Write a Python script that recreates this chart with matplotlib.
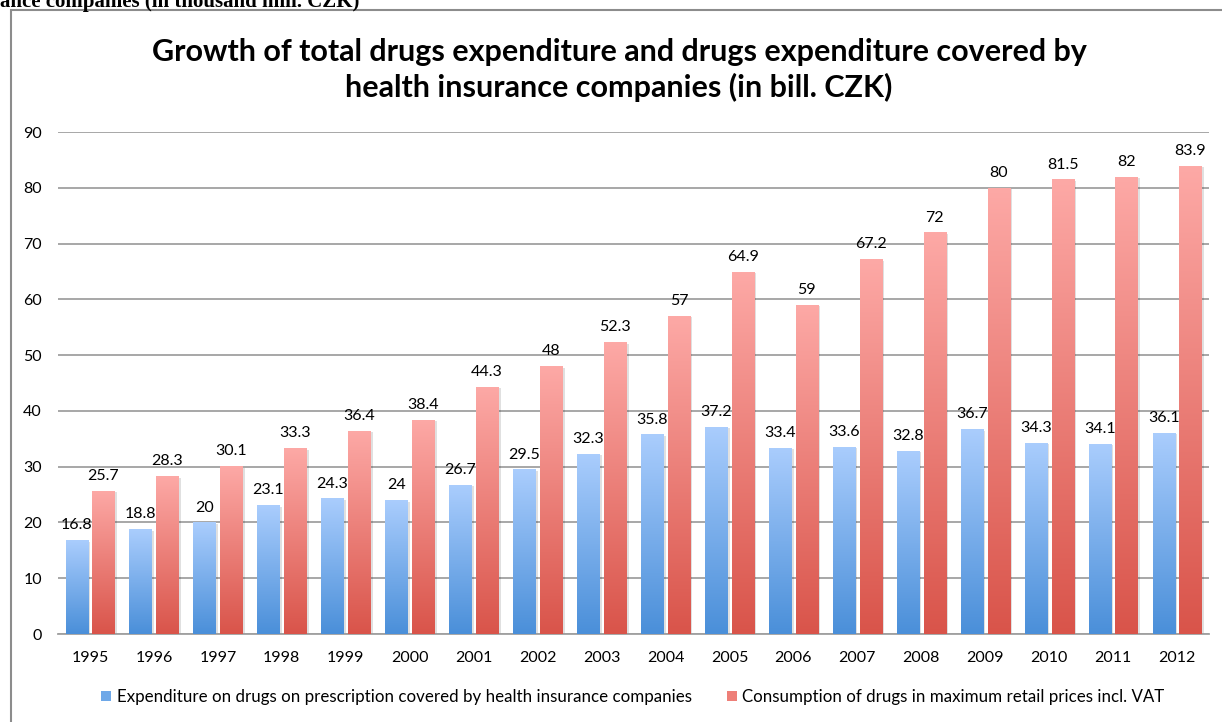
import matplotlib
matplotlib.use("Agg")
import matplotlib.pyplot as plt
import numpy as np
from matplotlib.colors import LinearSegmentedColormap
from matplotlib.patches import Rectangle, Patch

years = ["1995", "1996", "1997", "1998", "1999", "2000", "2001", "2002", "2003",
         "2004", "2005", "2006", "2007", "2008", "2009", "2010", "2011", "2012"]
covered = [16.8, 18.8, 20, 23.1, 24.3, 24, 26.7, 29.5, 32.3, 35.8, 37.2, 33.4,
           33.6, 32.8, 36.7, 34.3, 34.1, 36.1]
consumption = [25.7, 28.3, 30.1, 33.3, 36.4, 38.4, 44.3, 48, 52.3, 57, 64.9, 59,
               67.2, 72, 80, 81.5, 82, 83.9]
covered_labels = ["16.8", "18.8", "20", "23.1", "24.3", "24", "26.7", "29.5", "32.3",
                  "35.8", "37.2", "33.4", "33.6", "32.8", "36.7", "34.3", "34.1", "36.1"]
consumption_labels = ["25.7", "28.3", "30.1", "33.3", "36.4", "38.4", "44.3", "48", "52.3",
                      "57", "64.9", "59", "67.2", "72", "80", "81.5", "82", "83.9"]
series_names = ["Expenditure on drugs on prescription covered by health insurance companies",
                "Consumption of drugs in maximum retail prices incl. VAT"]
title = ("Growth of total drugs expenditure and drugs expenditure covered by\n"
         "health insurance companies (in bill. CZK)")

plt.rcParams['font.family'] = ['Lato', 'DejaVu Sans']

fig = plt.figure(figsize=(12.22, 7.22), dpi=100)
W, H = 1222, 722

# cut-off heading text of surrounding document
fig.text(0, 1 - 6.5 / H, "ance companies (in thousand mill. CZK)", fontsize=15,
         fontweight='bold', family='Liberation Serif', va='baseline', ha='left')

# chart frame
frame = Rectangle((11 / W, -0.1), 1.2, 1 - 10 / H + 0.1, transform=fig.transFigure,
                  fill=False, edgecolor='#8c8c8c', linewidth=1.5)
fig.patches.append(frame)

ax = fig.add_axes([58 / W, 1 - 634 / H, (1209 - 58) / W, (634 - 132) / H])
x = np.arange(len(years))
bw = 0.345
off = 0.21
blue_cmap = LinearSegmentedColormap.from_list("b", ["#4a8fd9", "#aacdfd"])
red_cmap = LinearSegmentedColormap.from_list("r", ["#d9544a", "#fda9a6"])

b1 = ax.bar(x - off, covered, bw, color='none', zorder=3)
b2 = ax.bar(x + off, consumption, bw, color='none', zorder=3)
grad = np.linspace(0, 1, 256).reshape(-1, 1)
for bars, cmap in ((b1, blue_cmap), (b2, red_cmap)):
    for p in bars:
        x0, y0 = p.get_x(), p.get_y()
        w, h = p.get_width(), p.get_height()
        sh = Rectangle((x0 + 0.04, y0), w, h - 0.25, facecolor='#000000', alpha=0.12,
                       edgecolor='none', zorder=2)
        ax.add_patch(sh)
        im = ax.imshow(grad, extent=(x0, x0 + w, y0, y0 + h), origin='lower',
                       cmap=cmap, aspect='auto', zorder=3, interpolation='bilinear')
        im.set_clip_path(p)

for xi, v, s in zip(x, covered, covered_labels):
    ax.text(xi - off, v + 1.4, s, ha='center', va='bottom', fontsize=11.5, zorder=5)
for xi, v, s in zip(x, consumption, consumption_labels):
    ax.text(xi + off, v + 1.4, s, ha='center', va='bottom', fontsize=11.5, zorder=5)

ax.set_xlim(-0.5, len(years) - 0.5)
ax.set_ylim(0, 90)
ax.set_yticks(range(0, 91, 10))
ax.set_xticks(x)
ax.set_xticklabels(years, fontsize=11.5)
ax.tick_params(axis='y', labelsize=11.5, length=0, pad=11.5)
ax.tick_params(axis='x', length=0, pad=12)
ax.grid(axis='y', color='#a0a0a0', linewidth=1.3, zorder=0)
ax.set_axisbelow(True)
for sp in ['top', 'right', 'left']:
    ax.spines[sp].set_visible(False)
ax.spines['bottom'].set_color('#a0a0a0')
ax.spines['bottom'].set_linewidth(1.3)

fig.text(619 / W, 1 - 70 / H, title, ha='center', va='center', fontsize=22,
         fontweight='bold', linespacing=1.25)

handles = [Patch(facecolor='#6ea8e8', edgecolor='none'),
           Patch(facecolor='#ee7f78', edgecolor='none')]
fig.legend(handles, series_names, loc='center', bbox_to_anchor=(633 / W, 1 - 697 / H),
           ncol=2, frameon=False, fontsize=12.2, handlelength=0.6, handleheight=0.6,
           handletextpad=0.3, columnspacing=2.1)

fig.savefig("out.png", dpi=100)
